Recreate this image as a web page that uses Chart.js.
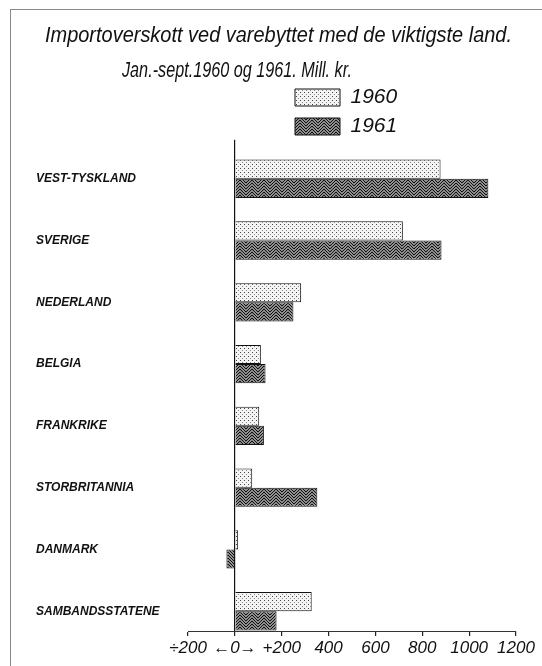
<!DOCTYPE html>
<html lang="no">
<head>
  <meta charset="UTF-8">
  <title>Importoverskott ved varebyttet</title>
  <script src="https://cdn.jsdelivr.net/npm/chart.js"></script>
  <style>
    body {
      margin: 0;
      background: #ffffff;
    }
    #wrap {
      position: relative;
      width: 542px;
      height: 666px;
    }
    #frame {
      position: absolute;
      left: 10px;
      top: 9px;
      right: 0;
      bottom: 0;
      border-left: 1px solid #888;
      border-top: 1px solid #888;
      pointer-events: none;
    }
  </style>
</head>
<body>
  <div id="wrap">
    <canvas id="importChart" width="542" height="666"></canvas>
    <div id="frame"></div>
  </div>

  <script>
    const countries = ['VEST-TYSKLAND', 'SVERIGE', 'NEDERLAND', 'BELGIA', 'FRANKRIKE', 'STORBRITANNIA', 'DANMARK', 'SAMBANDSSTATENE'];
    const values1960 = [878, 717, 283, 111, 104, 74, 14, 328];
    const values1961 = [1082, 882, 250, 131, 124, 352, -36, 178];
    const xTicks = [-200, 0, 200, 400, 600, 800, 1000, 1200];
    const xTickLabels = ['÷200', '←0→', '+200', '400', '600', '800', '1000', '1200'];

    const titleText = 'Importoverskott ved varebyttet med de viktigste land.';
    const subtitleText = 'Jan.-sept.1960 og 1961. Mill. kr.';

    const FONT = '"Liberation Sans", Arial, sans-serif';
    Chart.defaults.font.family = FONT;

    // stippled fill for 1960
    function dotPattern() {
      const c = document.createElement('canvas');
      c.width = 4; c.height = 4;
      const g = c.getContext('2d');
      g.fillStyle = '#f4f4f4';
      g.fillRect(0, 0, 4, 4);
      g.fillStyle = '#444';
      g.fillRect(0, 0, 1, 1);
      g.fillStyle = '#888';
      g.fillRect(2, 2, 1, 1);
      return g.createPattern(c, 'repeat');
    }

    // wavy zigzag fill for 1961
    function zigzagPattern() {
      const w = 12, h = 3;
      const c = document.createElement('canvas');
      c.width = w; c.height = h;
      const g = c.getContext('2d');
      g.fillStyle = '#ffffff';
      g.fillRect(0, 0, w, h);
      g.strokeStyle = '#111';
      g.lineWidth = 1.4;
      for (let y = -12; y <= 12; y += h) {
        g.beginPath();
        g.moveTo(-6, y + 6);
        g.lineTo(0, y);
        g.lineTo(6, y + 6);
        g.lineTo(12, y);
        g.lineTo(18, y + 6);
        g.stroke();
      }
      return g.createPattern(c, 'repeat');
    }

    // the lettering in the original is condensed; squeeze the title lines
    // into their boxes and move the legend up beside the heading
    const placeBoxes = {
      id: 'placeBoxes',
      afterLayout(chart) {
        if (chart.titleBlock) {
          chart.titleBlock.left = 45;
          chart.titleBlock.right = 512;
        }
        const sub = chart.boxes.find(b => b.options && b.options.text === subtitleText);
        if (sub) {
          sub.left = 122;
          sub.right = 352;
        }
        if (chart.legend) {
          chart.legend.left = 287;
          chart.legend.top = 79;
        }
      }
    };

    const ctx = document.getElementById('importChart').getContext('2d');

    new Chart(ctx, {
      type: 'bar',
      data: {
        datasets: [
          {
            label: '1960',
            data: values1960.map((v, i) => ({ x: v, y: i })),
            backgroundColor: dotPattern(),
            borderColor: '#111',
            borderWidth: 1
          },
          {
            label: '1961',
            data: values1961.map((v, i) => ({ x: v, y: i })),
            backgroundColor: zigzagPattern(),
            borderColor: '#111',
            borderWidth: 1
          }
        ]
      },
      options: {
        indexAxis: 'y',
        responsive: false,
        animation: false,
        categoryPercentage: 0.62,
        barPercentage: 1,
        layout: {
          padding: { left: 36, right: 26, top: 0, bottom: 0 }
        },
        plugins: {
          tooltip: { enabled: false },
          title: {
            display: true,
            text: titleText,
            color: '#111',
            font: { size: 22, style: 'italic', weight: 'normal', lineHeight: 1.2 },
            padding: { top: 23, bottom: 8 }
          },
          subtitle: {
            display: true,
            text: subtitleText,
            align: 'start',
            color: '#111',
            font: { size: 22, style: 'italic', weight: 'normal', lineHeight: 1.2 },
            padding: { top: 0, bottom: 56 }
          },
          legend: {
            position: 'chartArea',
            align: 'start',
            labels: {
              boxWidth: 45,
              boxHeight: 17,
              padding: 8,
              color: '#111',
              font: { size: 21, style: 'italic' }
            }
          }
        },
        scales: {
          x: {
            type: 'linear',
            min: -200,
            max: 1200,
            afterBuildTicks: s => { s.ticks = xTicks.map(v => ({ value: v })); },
            afterFit: s => { s.height = 35; },
            ticks: {
              color: '#111',
              padding: 2,
              autoSkip: false,
              maxRotation: 0,
              font: { size: 17, style: 'italic' },
              callback: (v) => xTickLabels[xTicks.indexOf(v)]
            },
            grid: {
              drawOnChartArea: true,
              color: c => (c.tick && c.tick.value === 0 ? '#111' : 'rgba(0,0,0,0)'),
              tickColor: '#222',
              tickLength: 5,
              lineWidth: 1.2
            },
            border: { display: true, color: '#333', width: 1 }
          },
          y: {
            type: 'linear',
            reverse: true,
            offset: false,
            min: -0.63,
            max: 7.32,
            afterBuildTicks: s => { s.ticks = countries.map((_, i) => ({ value: i })); },
            afterFit: s => { s.width = 152; },
            ticks: {
              color: '#111',
              crossAlign: 'far',
              autoSkip: false,
              font: { size: 12, style: 'italic', weight: 'bold' },
              callback: (v) => countries[v]
            },
            grid: { display: false, offset: false },
            border: { display: false }
          }
        }
      },
      plugins: [placeBoxes]
    });
  </script>
</body>
</html>
